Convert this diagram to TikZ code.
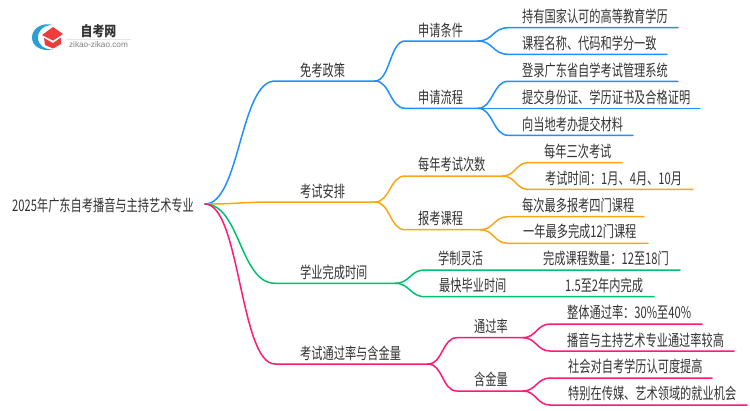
\documentclass[tikz,border=0pt]{standalone}
\usepackage{fontspec}
\setmainfont[FakeStretch=0.70]{Noto Sans CJK SC}
\newfontfamily\logofont{Noto Sans CJK SC}[FakeStretch=0.85]
\newfontfamily\logolatin{Liberation Sans}
\definecolor{cblue}{HTML}{1E90FF}
\definecolor{corange}{HTML}{F8A815}
\definecolor{cgreen}{HTML}{00C26E}
\definecolor{cpink}{HTML}{FF1A75}
\definecolor{ctext}{HTML}{333333}
\definecolor{cring}{HTML}{2A9FD6}
\definecolor{chat}{HTML}{EE3B3B}
\tikzset{
  txt/.style={anchor=base west,inner sep=0pt,text=ctext,yshift=-0.8pt,font=\fontsize{16}{18}\selectfont},
  wire/.style={line width=1.5pt,line cap=round,draw=#1},
}
% \lnk{colour}{from}{via}{end}{half-width}
\newcommand{\lnk}[5]{\draw[wire=#1] (#2) to[out=0,in=180,out distance=#5,in distance=#5] (#3) -- (#4);}
\begin{document}
\begin{tikzpicture}[x=1pt,y=-1pt]
\useasboundingbox (0,0) rectangle (750,410);
\fill[white] (0,0) rectangle (750,410);
% logo
\fill[cring] (53,25) .. controls (41,22) and (32,29) .. (32,37.5) .. controls (32,46) and (41,52) .. (53,49.5) .. controls (44,49.5) and (38,45) .. (38,37.5) .. controls (38,30) and (44,25) .. (53,25) -- cycle;
\fill[chat] (53,27) -- (63,34) -- (53,40.5) -- (42,35) -- cycle;
\fill[chat] (44,38) -- (53,43) -- (61,37.5) -- (61,44) -- (53,48.5) -- (45,45) -- cycle;
\node[anchor=center,inner sep=0pt,text=ctext,font=\logofont\bfseries\fontsize{14}{15}\selectfont] (logoname) at (98.5,31) {自考网};
\node[anchor=center,inner sep=0pt,text=gray,font=\logolatin\fontsize{8.2}{9}\selectfont] (logourl) at (98.5,45) {zikao-zikao.com};
\draw[gray!20,line width=.6pt] (66,39) -- (131,39);

% junctions and line ends
\coordinate (root) at (205,204);
\coordinate (a1) at (275,81);   \coordinate (a1e) at (375,81);
\coordinate (a2) at (275,202);  \coordinate (a2e) at (375,202);
\coordinate (a3) at (275,283.3);\coordinate (a3e) at (395,283.3);
\coordinate (a4) at (275,364);  \coordinate (a4e) at (428,364);
\coordinate (b1) at (405,41);   \coordinate (b1e) at (478,41);
\coordinate (b2) at (405,108.3);\coordinate (b2e) at (478,108.3);
\coordinate (b3) at (405,176);  \coordinate (b3e) at (503,176);
\coordinate (b4) at (405,229.7);\coordinate (b4e) at (480,229.7);
\coordinate (b5) at (425,270);  \coordinate (b5e) at (680,270);
\coordinate (b6) at (425,296.7);\coordinate (b6e) at (654,296.7);
\coordinate (b7) at (457,337.7);\coordinate (b7e) at (523,337.7);
\coordinate (b8) at (457,391);  \coordinate (b8e) at (523,391);
\coordinate (c1) at (508,27.7); \coordinate (c1e) at (678,27.7);
\coordinate (c2) at (508,54.3); \coordinate (c2e) at (667,54.3);
\coordinate (c3) at (508,81.3); \coordinate (c3e) at (678,81.3);
\coordinate (c4) at (508,108.3);\coordinate (c4e) at (700,108.3);
\coordinate (c5) at (508,135.3);\coordinate (c5e) at (633,135.3);
\coordinate (c6) at (528,162.7);\coordinate (c6e) at (622,162.7);
\coordinate (c7) at (528,189.3);\coordinate (c7e) at (693,189.3);
\coordinate (c8) at (508,216.7);\coordinate (c8e) at (644,216.7);
\coordinate (c9) at (508,243.3);\coordinate (c9e) at (648,243.3);
\coordinate (d1) at (550,324);  \coordinate (d1e) at (702,324);
\coordinate (d2) at (550,351);  \coordinate (d2e) at (734,351);
\coordinate (d3) at (550,378);  \coordinate (d3e) at (712,378);
\coordinate (d4) at (550,405);  \coordinate (d4e) at (747,405);

% connectors
\lnk{cblue}{root}{a1}{a1e}{35pt}
\lnk{corange}{root}{a2}{a2e}{35pt}
\lnk{cgreen}{root}{a3}{a3e}{35pt}
\lnk{cpink}{root}{a4}{a4e}{35pt}
\lnk{cblue}{a1e}{b1}{b1e}{15pt}
\lnk{cblue}{a1e}{b2}{b2e}{15pt}
\lnk{corange}{a2e}{b3}{b3e}{15pt}
\lnk{corange}{a2e}{b4}{b4e}{15pt}
\lnk{cgreen}{a3e}{b5}{b5e}{15pt}
\lnk{cgreen}{a3e}{b6}{b6e}{15pt}
\lnk{cpink}{a4e}{b7}{b7e}{15pt}
\lnk{cpink}{a4e}{b8}{b8e}{15pt}
\lnk{cblue}{b1e}{c1}{c1e}{15pt}
\lnk{cblue}{b1e}{c2}{c2e}{15pt}
\lnk{cblue}{b2e}{c3}{c3e}{15pt}
\lnk{cblue}{b2e}{c4}{c4e}{15pt}
\lnk{cblue}{b2e}{c5}{c5e}{15pt}
\lnk{corange}{b3e}{c6}{c6e}{12pt}
\lnk{corange}{b3e}{c7}{c7e}{12pt}
\lnk{corange}{b4e}{c8}{c8e}{14pt}
\lnk{corange}{b4e}{c9}{c9e}{14pt}
\lnk{cpink}{b7e}{d1}{d1e}{13pt}
\lnk{cpink}{b7e}{d2}{d2e}{13pt}
\lnk{cpink}{b8e}{d3}{d3e}{13pt}
\lnk{cpink}{b8e}{d4}{d4e}{13pt}

% texts
\node[txt] (t0) at (12,211) {2025年广东自考播音与主持艺术专业};
\node[txt] (t1) at (300,76) {免考政策};
\node[txt] (t2) at (300,197) {考试安排};
\node[txt] (t3) at (300,278) {学业完成时间};
\node[txt] (t4) at (300,359) {考试通过率与含金量};
\node[txt] (u1) at (418,35.7) {申请条件};
\node[txt] (u2) at (418,102.7) {申请流程};
\node[txt] (u3) at (418,170) {每年考试次数};
\node[txt] (u4) at (418,224) {报考课程};
\node[txt] (u5) at (438,264) {学制灵活};
\node[txt] (u6) at (439,291) {最快毕业时间};
\node[txt] (u7) at (474,332) {通过率};
\node[txt] (u8) at (474,385) {含金量};
\node[txt] (v1) at (522,21.7) {持有国家认可的高等教育学历};
\node[txt] (v2) at (522,49) {课程名称、代码和学分一致};
\node[txt] (v3) at (522,76) {登录广东省自学考试管理系统};
\node[txt] (v4) at (522,103) {提交身份证、学历证书及合格证明};
\node[txt] (v5) at (522,130) {向当地考办提交材料};
\node[txt] (v6) at (544,156.7) {每年三次考试};
\node[txt] (v7) at (545,184) {考试时间：1月、4月、10月};
\node[txt] (v8) at (522,211) {每次最多报考四门课程};
\node[txt] (v9) at (523,237) {一年最多完成12门课程};
\node[txt] (v10) at (543,264) {完成课程数量：12至18门};
\node[txt] (v11) at (565,291) {1.5至2年内完成};
\node[txt] (w1) at (567,318) {整体通过率：30\%至40\%};
\node[txt] (w2) at (567,346) {播音与主持艺术专业通过率较高};
\node[txt] (w3) at (568,372) {社会对自考学历认可度提高};
\node[txt] (w4) at (568,399) {特别在传媒、艺术领域的就业机会};
\end{tikzpicture}
\end{document}
